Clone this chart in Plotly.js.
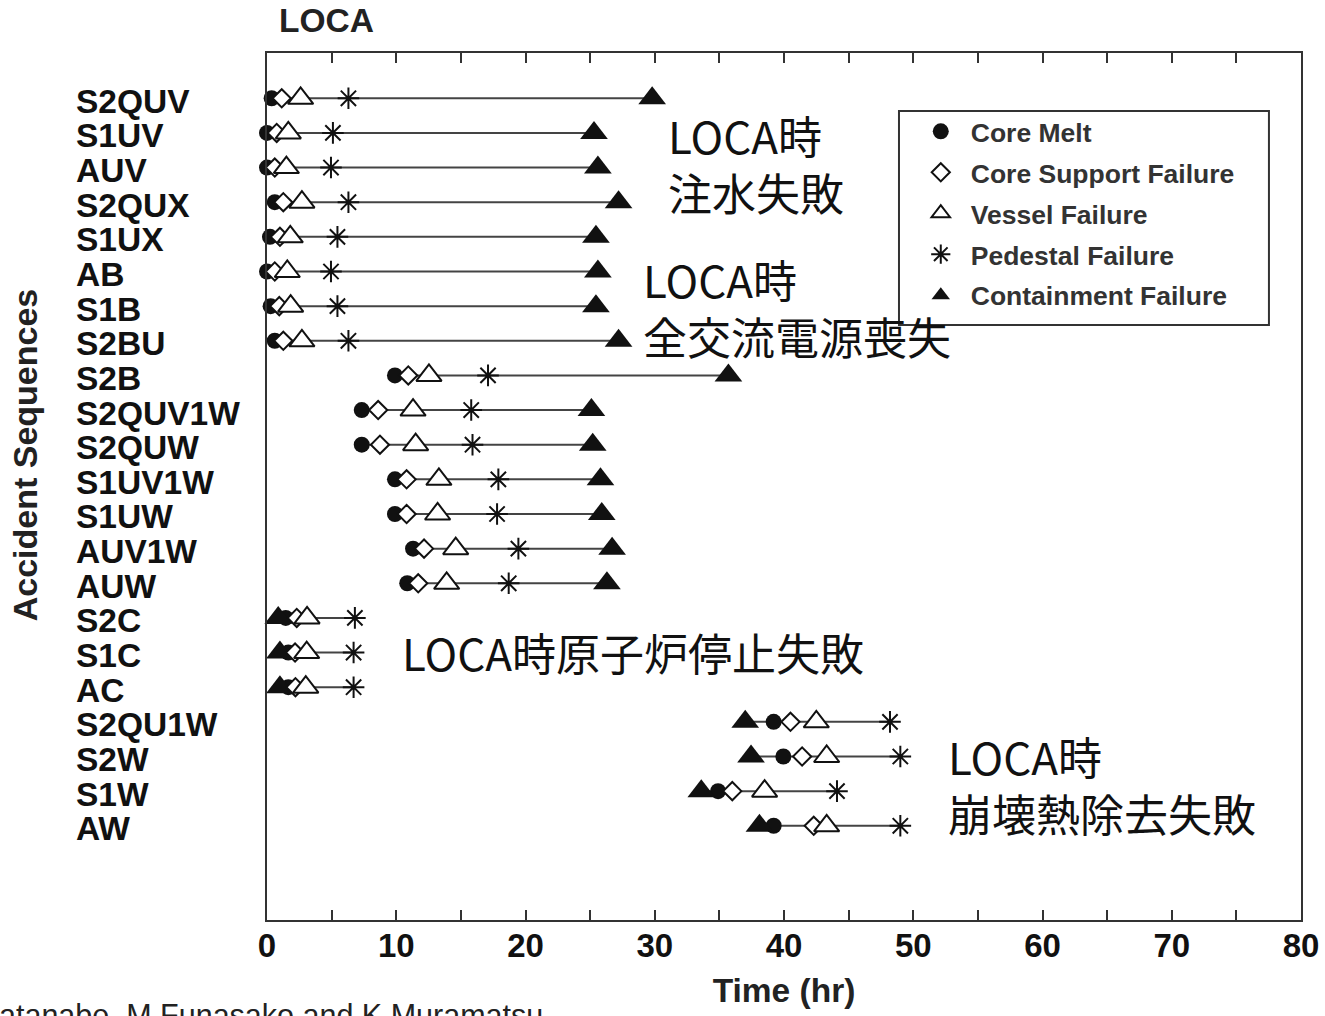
<!DOCTYPE html>
<html>
<head>
<meta charset="utf-8">
<script src="https://cdn.plot.ly/plotly-3.0.1.min.js"></script>
<style>html,body{margin:0;padding:0;background:#fff;}#chart{width:1325px;height:1016px;}</style>
</head>
<body>
<div id="chart"></div>
<script>
// ---- data (hours) ----
const sequences = ['S2QUV','S1UV','AUV','S2QUX','S1UX','AB','S1B','S2BU','S2B','S2QUV1W','S2QUW','S1UV1W','S1UW','AUV1W','AUW','S2C','S1C','AC','S2QU1W','S2W','S1W','AW'];
const coreMelt       = [0.36,0.0,0.0,0.6,0.23,0.0,0.28,0.6, 9.9,7.33,7.33,9.9,9.9,11.3,10.85, 1.45,1.65,1.65, 39.2,39.95,34.9,39.2];
const coreSupport    = [1.14,0.75,0.6,1.26,1.0,0.6,0.95,1.26, 10.93,8.6,8.74,10.8,10.8,12.15,11.7, 2.3,2.17,2.2, 40.5,41.4,36.0,42.3];
const vesselFailure  = [2.6,1.65,1.5,2.7,1.8,1.57,1.83,2.7, 12.53,11.3,11.5,13.3,13.2,14.6,13.9, 3.1,3.07,3.0, 42.5,43.3,38.5,43.3];
const pedestalFail   = [6.3,5.1,4.95,6.3,5.45,4.95,5.45,6.3, 17.1,15.8,15.9,17.9,17.8,19.45,18.7, 6.8,6.7,6.7, 48.2,49.0,44.1,49.0];
const containment    = [29.8,25.3,25.6,27.2,25.45,25.6,25.45,27.2, 35.7,25.1,25.2,25.8,25.9,26.7,26.3, 0.87,1.0,1.0, 37.0,37.45,33.6,38.1];
const seriesNames = ['Core Melt','Core Support Failure','Vessel Failure','Pedestal Failure','Containment Failure'];
const xTickVals = [0,10,20,30,40,50,60,70,80];
const groupNotes = [
  {text:'LOCA時<br>注水失敗', x:30.9, y:0.872},
  {text:'LOCA時<br>全交流電源喪失', x:28.95, y:0.707},
  {text:'LOCA時原子炉停止失敗', x:10.3, y:0.309},
  {text:'LOCA時<br>崩壊熱除去失敗', x:52.55, y:0.156}
];
const yAxisTitle = 'Accident Sequences';
const credit = 'atanabe, M.Funasako and K.Muramatsu';

// ---- build traces ----
const SANS = 'Liberation Sans, Arial, sans-serif';
const CJK = 'Noto Sans CJK JP, sans-serif';
const INK = '#111';

const lineX = [], lineY = [];
sequences.forEach((s, i) => {
  const vals = [coreMelt[i], coreSupport[i], vesselFailure[i], pedestalFail[i], containment[i]];
  lineX.push(Math.min(...vals), Math.max(...vals), null);
  lineY.push(s, s, null);
});

const traces = [
  {type:'scatter', mode:'lines', x:lineX, y:lineY, line:{color:'#444', width:2},
   showlegend:false, hoverinfo:'skip', cliponaxis:false},
  {type:'scatter', mode:'markers', name:seriesNames[0], x:coreMelt, y:sequences,
   marker:{symbol:'circle', size:16, color:INK}, legendrank:1, legendgroup:'g1', cliponaxis:false},
  {type:'scatter', mode:'markers', name:seriesNames[4], x:containment, y:sequences,
   marker:{symbol:'triangle-up', size:24, color:INK}, legendrank:5, legendgroup:'g5', cliponaxis:false},
  {type:'scatter', mode:'markers', name:seriesNames[1], x:coreSupport, y:sequences,
   marker:{symbol:'diamond', size:14, color:'#fff', line:{color:INK, width:2}}, legendrank:2, legendgroup:'g2', cliponaxis:false},
  {type:'scatter', mode:'markers', name:seriesNames[2], x:vesselFailure, y:sequences,
   marker:{symbol:'triangle-up', size:22, color:'#fff', line:{color:INK, width:2}}, legendrank:3, legendgroup:'g3', cliponaxis:false},
  {type:'scatter', mode:'markers', name:seriesNames[3], x:pedestalFail, y:sequences,
   marker:{symbol:'asterisk-open', size:18, color:INK, line:{color:INK, width:2}}, legendrank:4, legendgroup:'g4', cliponaxis:false}
];

// ---- annotations ----
const annotations = [];
sequences.forEach(s => {
  annotations.push({text:s, xref:'paper', x:-0.1867, xanchor:'left', yref:'y', y:s, yshift:-3,
    showarrow:false, font:{family:SANS, size:33.5, weight:'bold', color:INK}});
});
groupNotes.forEach(n => {
  annotations.push({text:n.text, xref:'x', x:n.x, xanchor:'left', yref:'paper', y:n.y, yanchor:'middle',
    showarrow:false, align:'left', font:{family:CJK, size:44, color:INK}});
});
annotations.push({text:yAxisTitle, xref:'paper', x:-0.234, xanchor:'center', yref:'paper', y:0.536, yanchor:'middle',
  textangle:-90, showarrow:false, font:{family:SANS, size:34, weight:'bold', color:'#222'}});
annotations.push({text:credit, xref:'paper', x:-0.261, xanchor:'left', yref:'paper', y:-0.0877, yanchor:'top',
  showarrow:false, font:{family:SANS, size:30.5, color:'#222'}});

const layout = {
  width:1325, height:1016,
  margin:{l:267, r:24, t:53, b:96},
  paper_bgcolor:'#fff', plot_bgcolor:'#fff',
  title:{text:'LOCA', font:{family:SANS, size:33.5, weight:'bold', color:'#222'},
         xref:'paper', x:0.0116, xanchor:'left', yref:'container', y:0.980, yanchor:'middle'},
  xaxis:{range:[0,80], tickvals:xTickVals, ticks:'inside', ticklen:10, tickwidth:2, tickcolor:'#333',
         minor:{dtick:5, ticks:'inside', ticklen:10, tickwidth:2, tickcolor:'#333'},
         showline:true, linecolor:'#333', linewidth:2, mirror:'ticks', showgrid:false, zeroline:false,
         ticklabelstandoff:-5,
         tickfont:{family:SANS, size:33, weight:'bold', color:INK},
         title:{text:'Time (hr)', font:{family:SANS, size:33.5, weight:'bold', color:'#222'}, standoff:16}},
  yaxis:{type:'category', categoryorder:'array', categoryarray:sequences, range:[23.72,-1.307],
         showticklabels:false, ticks:'', showline:true, linecolor:'#333', linewidth:2, mirror:true,
         showgrid:false, zeroline:false},
  shapes:[{type:'rect', xref:'paper', yref:'paper', x0:0.6112, x1:0.969, y0:0.6863, y1:0.9331,
           fillcolor:'#fff', line:{color:'#333', width:2}, layer:'above'}],
  legend:{x:0.611, xanchor:'left', y:0.937, yanchor:'top', bgcolor:'rgba(0,0,0,0)', borderwidth:0,
          font:{family:SANS, size:26.5, weight:'bold', color:'#333'}, traceorder:'grouped', tracegroupgap:3.5,
          indentation:12, itemwidth:50},
  annotations:annotations,
  showlegend:true
};

Plotly.newPlot('chart', traces, layout, {displayModeBar:false, staticPlot:true});
</script>
</body>
</html>
